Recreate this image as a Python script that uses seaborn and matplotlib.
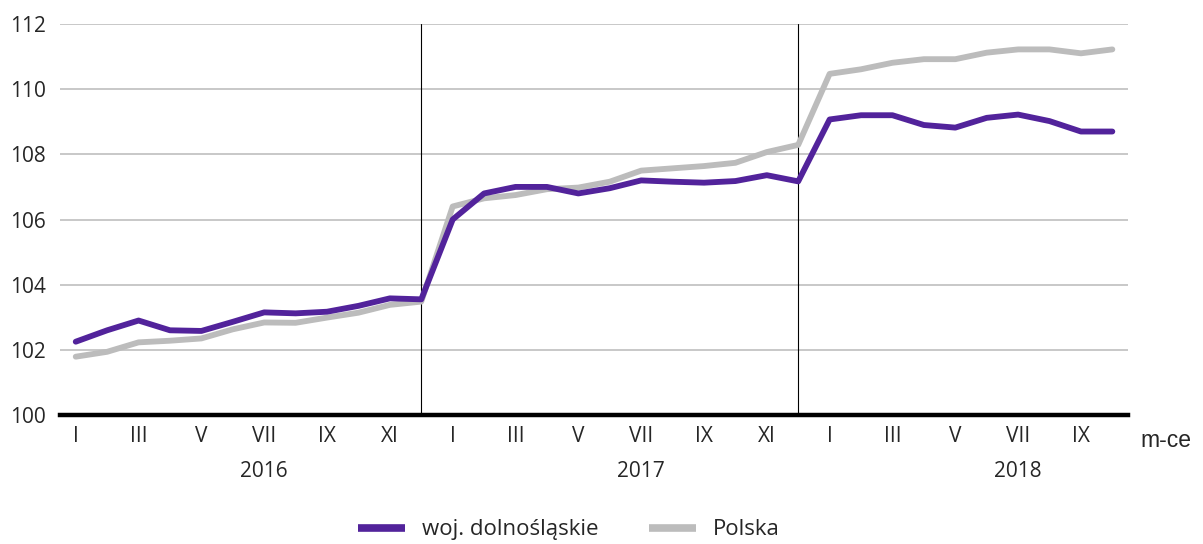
"""
    Indeks cen (woj. dolnośląskie vs Polska), m-ce 2016-2018
"""
import numpy as np
import pandas as pd
import seaborn as sns
import matplotlib.pyplot as plt
from matplotlib.lines import Line2D
from matplotlib.transforms import blended_transform_factory

# months I 2016 .. X 2018
years = ["2016", "2017", "2018"]
roman = ["I", "II", "III", "IV", "V", "VI", "VII", "VIII", "IX", "X", "XI", "XII"]
n_months = [12, 12, 10]

dolnoslaskie = [102.25, 102.60, 102.90, 102.60, 102.58, 102.86, 103.15, 103.12, 103.17, 103.35, 103.58, 103.55,
                106.00, 106.80, 107.00, 107.00, 106.80, 106.96, 107.20, 107.16, 107.13, 107.18, 107.36, 107.17,
                109.07, 109.20, 109.20, 108.90, 108.82, 109.12, 109.22, 109.02, 108.70, 108.70]
polska = [101.79, 101.94, 102.23, 102.28, 102.35, 102.63, 102.84, 102.83, 102.99, 103.14, 103.38, 103.48,
          106.40, 106.65, 106.75, 106.93, 106.98, 107.16, 107.50, 107.57, 107.64, 107.74, 108.07, 108.29,
          110.47, 110.61, 110.81, 110.92, 110.92, 111.12, 111.22, 111.22, 111.10, 111.22]

labels = ["woj. dolnośląskie", "Polska"]
PURPLE = "#52239b"
GREY = "#bcbcbc"

idx = np.arange(sum(n_months))
df = pd.DataFrame({"m": np.concatenate([idx, idx]),
                   "val": dolnoslaskie + polska,
                   "seria": [labels[0]] * len(idx) + [labels[1]] * len(idx)})

sns.set_style("white")
plt.rcParams["font.family"] = ["Open Sans", "DejaVu Sans"]

fig = plt.figure(figsize=(12.03, 5.44), dpi=100)
ax = fig.add_axes([0.0499, 0.2371, 0.8878, 0.7188])

# grey first so the purple line sits on top
sns.lineplot(data=df[df.seria == labels[1]], x="m", y="val", ax=ax, color=GREY, lw=4.2)
sns.lineplot(data=df[df.seria == labels[0]], x="m", y="val", ax=ax, color=PURPLE, lw=4.2)

# year separators at XII
for k in np.cumsum(n_months)[:-1] - 1:
    ax.axvline(k, color="black", lw=0.8, zorder=1)

ax.set_xlim(-0.5, 33.5)
ax.set_ylim(100, 112)
ax.set_yticks(range(100, 113, 2))
ax.yaxis.grid(True, color="#c4c4c4", lw=1.3)
ax.set_axisbelow(True)
for s in ["top", "right", "left"]:
    ax.spines[s].set_visible(False)
ax.spines["bottom"].set_linewidth(3.2)
ax.spines["bottom"].set_color("black")
ax.spines["bottom"].set_zorder(5)

# month ticks: odd months labelled, every month marked
major = [i for i in idx if (i % 12) % 2 == 0]
minor = [i for i in idx if (i % 12) % 2 == 1]
ax.set_xticks(major)
ax.set_xticklabels([roman[i % 12] for i in major])
ax.set_xticks(minor, minor=True)
ax.tick_params(axis="x", which="both", direction="in", length=3, width=1, color="black",
               pad=8, labelsize=15)
ax.tick_params(axis="y", length=0, pad=10, labelsize=15)
ax.set_xlabel("")
ax.set_ylabel("")

trans = blended_transform_factory(ax.transData, ax.transAxes)
for j, y in enumerate(years):
    ax.text(6 + 12 * j, -0.145, y, transform=trans, ha="center", va="center", fontsize=15)
ax.text(1.012, -0.064, "m-ce", transform=ax.transAxes, ha="left", va="center",
        fontsize=16.5, family="Liberation Sans")

handles = [Line2D([], [], color=PURPLE, lw=5.5, solid_capstyle="butt"),
           Line2D([], [], color=GREY, lw=5.5, solid_capstyle="butt")]
fig.legend(handles, labels, loc="center", bbox_to_anchor=(0.473, 0.026), ncol=2,
           frameon=False, fontsize=16, handlelength=2.1, handletextpad=0.75, columnspacing=2.3)

plt.savefig("out.png", dpi=100)
plt.close()
